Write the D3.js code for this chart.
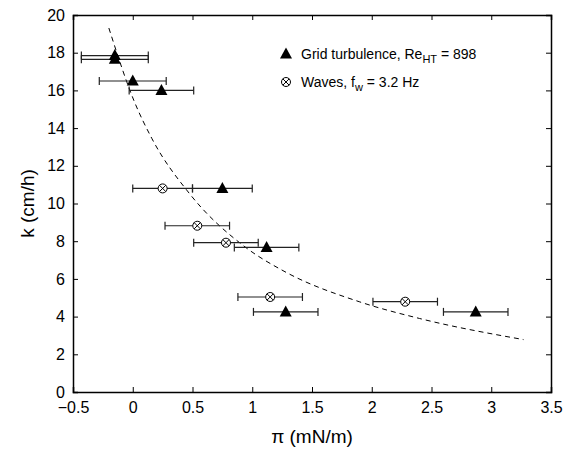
<!DOCTYPE html>
<html>
<head>
<meta charset="utf-8">
<script src="https://cdn.jsdelivr.net/npm/d3@7"></script>
<style>
  body { margin: 0; background: #fff; }
  svg { font-family: "Liberation Sans", Arial, sans-serif; }
</style>
</head>
<body>
<svg width="566" height="452"></svg>
<script>
// grid turbulence points (pi, k, horizontal error half-width)
const gridPi = [-0.15, -0.15, 0.0, 0.24, 0.75, 1.12, 1.28, 2.87];
const gridK = [17.85, 17.65, 16.5, 16.0, 10.8, 7.67, 4.25, 4.25];
const gridErr = [0.28, 0.28, 0.28, 0.27, 0.25, 0.27, 0.27, 0.27];

// wave points
const wavePi = [0.25, 0.54, 0.78, 1.15, 2.28];
const waveK = [10.8, 8.82, 7.92, 5.04, 4.79];
const waveErr = [0.25, 0.27, 0.27, 0.27, 0.27];

// dashed fit curve
const fitPi = [-0.2, 0.013, 0.159, 0.473, 0.939, 1.274, 1.9, 2.4, 3.27];
const fitK = [19.31, 15.41, 13.46, 10.54, 7.70, 6.38, 4.78, 3.90, 2.78];

const xTicks = [-0.5, 0, 0.5, 1, 1.5, 2, 2.5, 3, 3.5];
const yTicks = [0, 2, 4, 6, 8, 10, 12, 14, 16, 18, 20];

const margin = {top: 15, right: 15, bottom: 60, left: 73};
const width = 566 - margin.left - margin.right;
const height = 452 - margin.top - margin.bottom;

const svg = d3.select('svg');
const g = svg.append('g')
  .attr('transform', 'translate(' + margin.left + ',' + margin.top + ')');

const x = d3.scaleLinear().domain([-0.5, 3.5]).range([0, width]);
const y = d3.scaleLinear().domain([0, 20]).range([height, 0]);
const fmt = d3.format('~g');

// axes: ticks point inwards, box all round
g.append('g')
  .attr('transform', 'translate(0,' + height + ')')
  .call(d3.axisBottom(x).tickValues(xTicks).tickSize(-5).tickPadding(10).tickFormat(fmt));
g.append('g')
  .call(d3.axisLeft(y).tickValues(yTicks).tickSize(-5).tickPadding(8).tickFormat(fmt));
g.append('g')
  .call(d3.axisTop(x).tickValues(xTicks).tickSize(-5).tickFormat(''));
g.append('g')
  .attr('transform', 'translate(' + width + ',0)')
  .call(d3.axisRight(y).tickValues(yTicks).tickSize(-5).tickFormat(''));

g.selectAll('.domain').attr('stroke', '#000').attr('stroke-width', 1.5);
g.selectAll('.tick line').attr('stroke', '#000');
g.selectAll('.tick text').attr('font-size', 16).attr('fill', '#000')
  .attr('font-family', '"Liberation Sans", Arial, sans-serif');

// fit curve
const fit = fitPi.map((p, i) => ({p: p, k: fitK[i]}));
g.append('path')
  .datum(fit)
  .attr('fill', 'none')
  .attr('stroke', '#000')
  .attr('stroke-width', 1)
  .attr('stroke-dasharray', '5,4')
  .attr('d', d3.line().x(d => x(d.p)).y(d => y(d.k)).curve(d3.curveMonotoneX));

// error bars
function errorBars(pis, ks, errs) {
  const data = pis.map((p, i) => ({p: p, k: ks[i], e: errs[i]}));
  const eb = g.append('g').attr('stroke', '#222').attr('stroke-width', 1.2);
  eb.selectAll('line.h').data(data).enter().append('line')
    .attr('x1', d => x(d.p - d.e)).attr('x2', d => x(d.p + d.e))
    .attr('y1', d => y(d.k)).attr('y2', d => y(d.k));
  eb.selectAll('line.l').data(data).enter().append('line')
    .attr('x1', d => x(d.p - d.e)).attr('x2', d => x(d.p - d.e))
    .attr('y1', d => y(d.k) - 4).attr('y2', d => y(d.k) + 4);
  eb.selectAll('line.r').data(data).enter().append('line')
    .attr('x1', d => x(d.p + d.e)).attr('x2', d => x(d.p + d.e))
    .attr('y1', d => y(d.k) - 4).attr('y2', d => y(d.k) + 4);
  return data;
}

const triPath = 'M0,-6.5L6,4.5L-6,4.5Z';

function triangle(sel) {
  sel.append('path').attr('d', triPath).attr('fill', '#000');
}
function otimes(sel) {
  sel.append('circle').attr('r', 4.5).attr('fill', '#fff').attr('stroke', '#000').attr('stroke-width', 1);
  sel.append('path').attr('d', 'M-3.2,-3.2L3.2,3.2M-3.2,3.2L3.2,-3.2')
    .attr('stroke', '#000').attr('stroke-width', 1);
}

const waves = errorBars(wavePi, waveK, waveErr);
const grid = errorBars(gridPi, gridK, gridErr);

g.selectAll('g.wave').data(waves).enter().append('g')
  .attr('transform', d => 'translate(' + x(d.p) + ',' + y(d.k) + ')')
  .call(otimes);
g.selectAll('g.grid').data(grid).enter().append('g')
  .attr('transform', d => 'translate(' + x(d.p) + ',' + y(d.k) + ')')
  .call(triangle);

// legend
const leg = svg.append('g').attr('font-size', 14);
leg.append('g').attr('transform', 'translate(286,54)').call(triangle);
const t1 = leg.append('text').attr('x', 301).attr('y', 59);
t1.append('tspan').text('Grid turbulence, Re');
t1.append('tspan').attr('font-size', 11).attr('dy', 4).text('HT');
t1.append('tspan').attr('dy', -4).text(' = 898');

leg.append('g').attr('transform', 'translate(286,82)').call(otimes);
const t2 = leg.append('text').attr('x', 301).attr('y', 87);
t2.append('tspan').text('Waves, f');
t2.append('tspan').attr('font-size', 11).attr('dy', 4).text('w');
t2.append('tspan').attr('dy', -4).text(' = 3.2 Hz');

// axis titles
svg.append('text')
  .attr('x', margin.left + width / 2).attr('y', 443)
  .attr('text-anchor', 'middle').attr('font-size', 19)
  .text('π (mN/m)');
svg.append('text')
  .attr('transform', 'translate(34,' + (margin.top + height / 2) + ') rotate(-90)')
  .attr('text-anchor', 'middle').attr('font-size', 19)
  .text('k (cm/h)');
</script>
</body>
</html>
